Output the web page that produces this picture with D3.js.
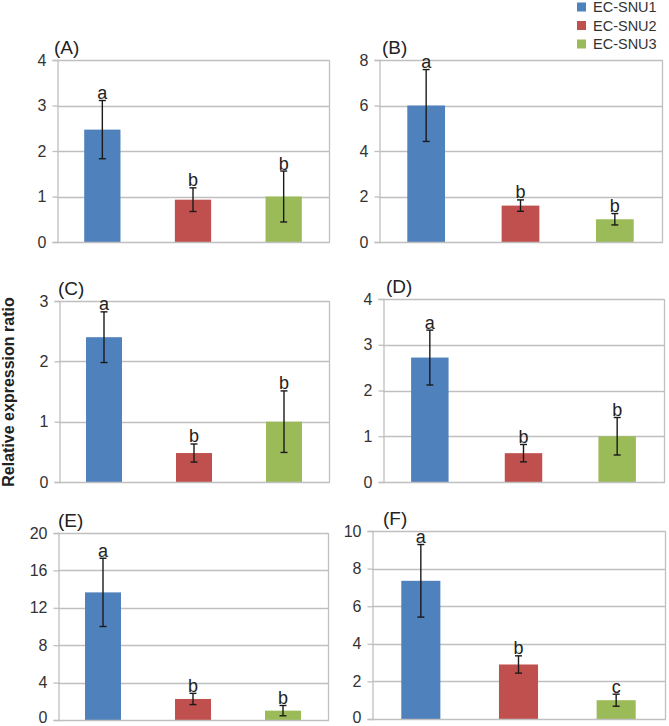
<!DOCTYPE html>
<html>
<head>
<meta charset="utf-8">
<script src="https://cdn.jsdelivr.net/npm/d3@7"></script>
<style>
  html, body { margin: 0; padding: 0; background: #fff; }
  svg { display: block; }
  text { font-family: "Liberation Sans", Arial, sans-serif; }
</style>
</head>
<body>
<svg id="chart" width="669" height="726"></svg>
<script>
// ---------- data ----------
const groups = ["EC-SNU1", "EC-SNU2", "EC-SNU3"];
const groupColors = ["#4F81BD", "#C0504D", "#9BBB59"];
const panelLabels = ["(A)", "(B)", "(C)", "(D)", "(E)", "(F)"];

const valuesA = [2.47, 0.93, 1.00];
const errorsA = [0.64, 0.26, 0.56];
const lettersA = ["a", "b", "b"];
const ticksA = [0, 1, 2, 3, 4];

const valuesB = [6.00, 1.60, 1.00];
const errorsB = [1.58, 0.25, 0.25];
const lettersB = ["a", "b", "b"];
const ticksB = [0, 2, 4, 6, 8];

const valuesC = [2.40, 0.48, 1.00];
const errorsC = [0.42, 0.15, 0.51];
const lettersC = ["a", "b", "b"];
const ticksC = [0, 1, 2, 3];

const valuesD = [2.72, 0.63, 1.00];
const errorsD = [0.60, 0.19, 0.41];
const lettersD = ["a", "b", "b"];
const ticksD = [0, 1, 2, 3, 4];

const valuesE = [13.65, 2.25, 1.00];
const errorsE = [3.65, 0.60, 0.55];
const lettersE = ["a", "b", "b"];
const ticksE = [0, 4, 8, 12, 16, 20];

const valuesF = [7.35, 2.90, 1.00];
const errorsF = [1.93, 0.46, 0.32];
const lettersF = ["a", "b", "c"];
const ticksF = [0, 2, 4, 6, 8, 10];

const yTitle = "Relative expression ratio";

// ---------- layout (plot-area frames) ----------
const frames = [
  { x0: 57,  x1: 329, y0: 60,  y1: 242, lx: -3 },
  { x0: 379, x1: 662, y0: 60,  y1: 242, lx: 3 },
  { x0: 59,  x1: 329, y0: 301, y1: 482, lx: -1 },
  { x0: 383, x1: 664, y0: 299, y1: 482, lx: 3 },
  { x0: 58,  x1: 328, y0: 533, y1: 720, lx: 0 },
  { x0: 372, x1: 665, y0: 531, y1: 719, lx: 11 }
];

const panels = [
  [valuesA, errorsA, lettersA, ticksA],
  [valuesB, errorsB, lettersB, ticksB],
  [valuesC, errorsC, lettersC, ticksC],
  [valuesD, errorsD, lettersD, ticksD],
  [valuesE, errorsE, lettersE, ticksE],
  [valuesF, errorsF, lettersF, ticksF]
];

const svg = d3.select("#chart");
const H = 726;
const gridColor = "#BFBFBF";
const textColor = "#333";

panels.forEach(([vals, errs, letters, ticks], i) => {
  const f = frames[i];
  const g = svg.append("g");
  const x = d3.scaleBand().domain(groups).range([f.x0, f.x1])
    .paddingInner(0.6).paddingOuter(0.3);
  const y = d3.scaleLinear().domain([0, d3.max(ticks)]).range([f.y1, f.y0]);

  // gridlines
  g.append("g").selectAll("line").data(ticks.filter(t => t > 0)).join("line")
    .attr("x1", f.x0).attr("x2", f.x1)
    .attr("y1", d => Math.round(y(d)) + 0.5).attr("y2", d => Math.round(y(d)) + 0.5)
    .attr("stroke", gridColor).attr("stroke-width", 1.3);

  // right border
  g.append("line").attr("x1", f.x1 + 0.5).attr("x2", f.x1 + 0.5)
    .attr("y1", f.y0).attr("y2", f.y1)
    .attr("stroke", gridColor).attr("stroke-width", 1.3);

  // y axis
  const yAxis = g.append("g").attr("transform", `translate(${f.x0 + 0.5},0)`)
    .call(d3.axisLeft(y).tickValues(ticks).tickSize(5).tickPadding(6).tickFormat(d3.format("d")));
  yAxis.select(".domain").attr("stroke", gridColor).attr("stroke-width", 1.3);
  yAxis.selectAll(".tick line").attr("stroke", gridColor).attr("stroke-width", 1.3);
  yAxis.selectAll(".tick text").attr("font-size", 16).attr("fill", textColor)
    .attr("font-family", "Liberation Sans, Arial, sans-serif")
    .each(function (d) {
      // keep labels that sit at the very bottom edge inside the picture
      const b = this.getBBox();
      const bottom = y(d) + b.y + b.height;
      if (bottom > H) d3.select(this).attr("y", -(bottom - H + 0.5));
    });

  // bars
  g.append("g").selectAll("rect").data(vals).join("rect")
    .attr("x", (d, j) => x(groups[j]))
    .attr("width", x.bandwidth())
    .attr("y", d => y(d))
    .attr("height", d => y(0) - y(d))
    .attr("fill", (d, j) => groupColors[j]);

  // x axis baseline
  g.append("line").attr("x1", f.x0).attr("x2", f.x1 + 1)
    .attr("y1", Math.round(y(0)) + 0.5).attr("y2", Math.round(y(0)) + 0.5)
    .attr("stroke", gridColor).attr("stroke-width", 1.3);

  // error bars
  const eb = g.append("g").attr("stroke", "#1a1a1a").attr("stroke-width", 1.4);
  vals.forEach((v, j) => {
    const cx = x(groups[j]) + x.bandwidth() / 2;
    const top = y(v + errs[j]), bot = y(v - errs[j]);
    eb.append("line").attr("x1", cx).attr("x2", cx).attr("y1", top).attr("y2", bot);
    eb.append("line").attr("x1", cx - 3.5).attr("x2", cx + 3.5).attr("y1", top).attr("y2", top);
    eb.append("line").attr("x1", cx - 3.5).attr("x2", cx + 3.5).attr("y1", bot).attr("y2", bot);
  });

  // significance letters
  g.append("g").selectAll("text").data(letters).join("text")
    .attr("x", (d, j) => x(groups[j]) + x.bandwidth() / 2)
    .attr("y", (d, j) => y(vals[j] + errs[j]) - 1.5)
    .attr("text-anchor", "middle")
    .attr("font-size", 18).attr("fill", "#222")
    .text(d => d);

  // panel label
  g.append("text").attr("x", f.x0 + f.lx).attr("y", f.y0 - 6)
    .attr("font-size", 19).attr("fill", "#222")
    .text(panelLabels[i]);
});

// y title
svg.append("text")
  .attr("transform", "translate(14,392) rotate(-90)")
  .attr("text-anchor", "middle")
  .attr("font-size", 16).attr("font-weight", "bold").attr("fill", "#222")
  .text(yTitle);

// legend
const legend = svg.append("g");
groups.forEach((name, j) => {
  const cy = 7 + j * 18.5;
  legend.append("rect").attr("x", 577).attr("y", cy - 4.5).attr("width", 9).attr("height", 9)
    .attr("fill", groupColors[j]);
  legend.append("text").attr("x", 593).attr("y", cy).attr("dy", "0.35em")
    .attr("font-size", 14.5).attr("fill", "#333").text(name);
});
</script>
</body>
</html>
